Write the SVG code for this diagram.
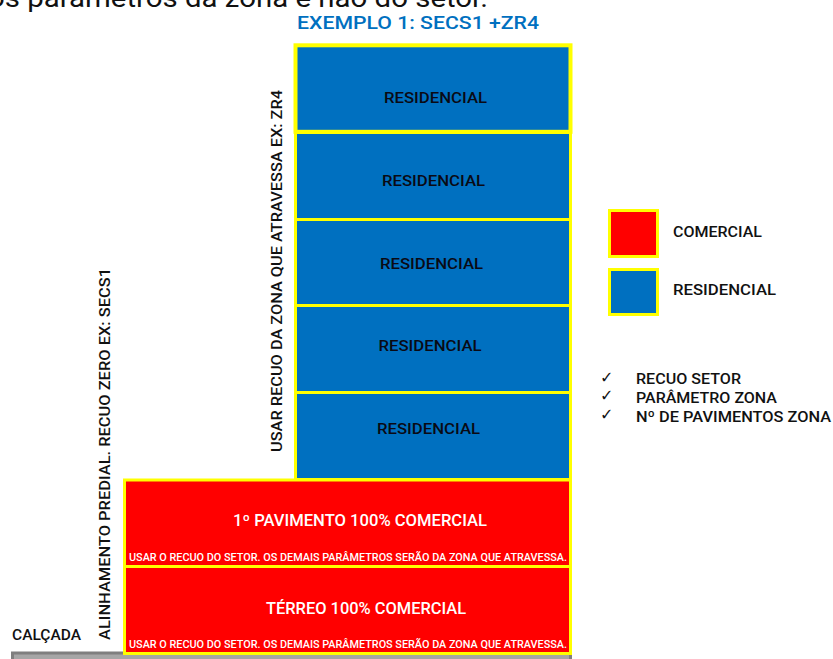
<svg xmlns="http://www.w3.org/2000/svg" width="833" height="659" viewBox="0 0 833 659">
<style>
text{font-family:Roboto,"Noto Sans",sans-serif;font-weight:500;fill:#111;letter-spacing:0}
.b{fill:#0070c0;stroke:#ffff00;stroke-width:3}
.r{fill:#ff0000;stroke:#ffff00;stroke-width:3}
.l{font-size:15px;fill:#0a0a14}
.w{fill:#fff;font-size:16px;font-weight:500}
.s{font-size:10.500px;font-weight:500}
.m{font-size:15px}
.v{font-size:15.500px;font-weight:500}
.c{font-family:"DejaVu Sans",sans-serif;font-size:16px;font-weight:400}
</style>
<rect width="833" height="659" fill="#fff"/>
<text x="-12" y="6.500" font-size="25" style="font-weight:400" textLength="500" lengthAdjust="spacingAndGlyphs">os parâmetros da zona e não do setor.</text>
<text x="297" y="28.500" font-size="19" style="fill:#0070c0" textLength="242" lengthAdjust="spacingAndGlyphs">EXEMPLO 1: SECS1 +ZR4</text>
<g id="calcada"><rect x="12.500" y="653" width="558" height="10" fill="#a6a6a6" stroke="#7f7f7f" stroke-width="3"/></g>
<g id="res5"><rect class="b" x="295.500" y="392.500" width="275" height="87"/><text class="l" x="377" y="434" textLength="103" lengthAdjust="spacingAndGlyphs">RESIDENCIAL</text></g>
<g id="res4"><rect class="b" x="295.500" y="305.500" width="275" height="87"/><text class="l" x="378.500" y="351" textLength="103" lengthAdjust="spacingAndGlyphs">RESIDENCIAL</text></g>
<g id="res3"><rect class="b" x="295.500" y="219.500" width="275" height="86"/><text class="l" x="380" y="269" textLength="103" lengthAdjust="spacingAndGlyphs">RESIDENCIAL</text></g>
<g id="res2"><rect class="b" x="295.500" y="132.500" width="275" height="87"/><text class="l" x="382" y="186" textLength="103" lengthAdjust="spacingAndGlyphs">RESIDENCIAL</text></g>
<g id="res1"><rect x="295.500" y="45.300" width="275" height="86.500" fill="#0070c0" stroke="#ffff00" stroke-width="4"/><text class="l" x="384" y="103" textLength="103" lengthAdjust="spacingAndGlyphs">RESIDENCIAL</text></g>
<g id="pav1"><rect class="r" x="124.500" y="480" width="446" height="86.500"/><text class="w" x="233" y="526" textLength="254" lengthAdjust="spacingAndGlyphs">1º PAVIMENTO 100% COMERCIAL</text><text class="w s" x="129" y="561" textLength="438" lengthAdjust="spacingAndGlyphs">USAR O RECUO DO SETOR. OS DEMAIS PARÂMETROS SERÃO DA ZONA QUE ATRAVESSA.</text></g>
<g id="terreo"><rect class="r" x="124.500" y="566.500" width="446" height="87"/><text class="w" x="266" y="614" textLength="200" lengthAdjust="spacingAndGlyphs">TÉRREO 100% COMERCIAL</text><text class="w s" x="129" y="647.500" textLength="438" lengthAdjust="spacingAndGlyphs">USAR O RECUO DO SETOR. OS DEMAIS PARÂMETROS SERÃO DA ZONA QUE ATRAVESSA.</text></g>
<g id="lab-calcada"><text class="m" x="12" y="640" textLength="69" lengthAdjust="spacingAndGlyphs">CALÇADA</text></g>
<g id="lab-alinh"><text class="v" transform="translate(110 640) rotate(-90)" textLength="372" lengthAdjust="spacingAndGlyphs">ALINHAMENTO PREDIAL. RECUO ZERO EX: SECS1</text></g>
<g id="lab-recuo"><text class="v" transform="translate(282 452) rotate(-90)" textLength="362" lengthAdjust="spacingAndGlyphs">USAR RECUO DA ZONA QUE ATRAVESSA EX: ZR4</text></g>
<g id="leg-com"><rect class="r" x="609.500" y="210.500" width="48" height="46"/><text class="m" x="673" y="237" textLength="89" lengthAdjust="spacingAndGlyphs">COMERCIAL</text></g>
<g id="leg-res"><rect class="b" x="609.500" y="269.500" width="48" height="45"/><text class="m" x="673" y="295" textLength="103" lengthAdjust="spacingAndGlyphs">RESIDENCIAL</text></g>
<g id="checks">
<text class="c" x="600" y="383">✓</text><text class="m" x="636" y="384" textLength="105" lengthAdjust="spacingAndGlyphs">RECUO SETOR</text>
<text class="c" x="600" y="401">✓</text><text class="m" x="636" y="402.500" textLength="141" lengthAdjust="spacingAndGlyphs">PARÂMETRO ZONA</text>
<text class="c" x="600" y="420">✓</text><text class="m" x="636" y="422" textLength="195" lengthAdjust="spacingAndGlyphs">Nº DE PAVIMENTOS ZONA</text>
</g>
</svg>
